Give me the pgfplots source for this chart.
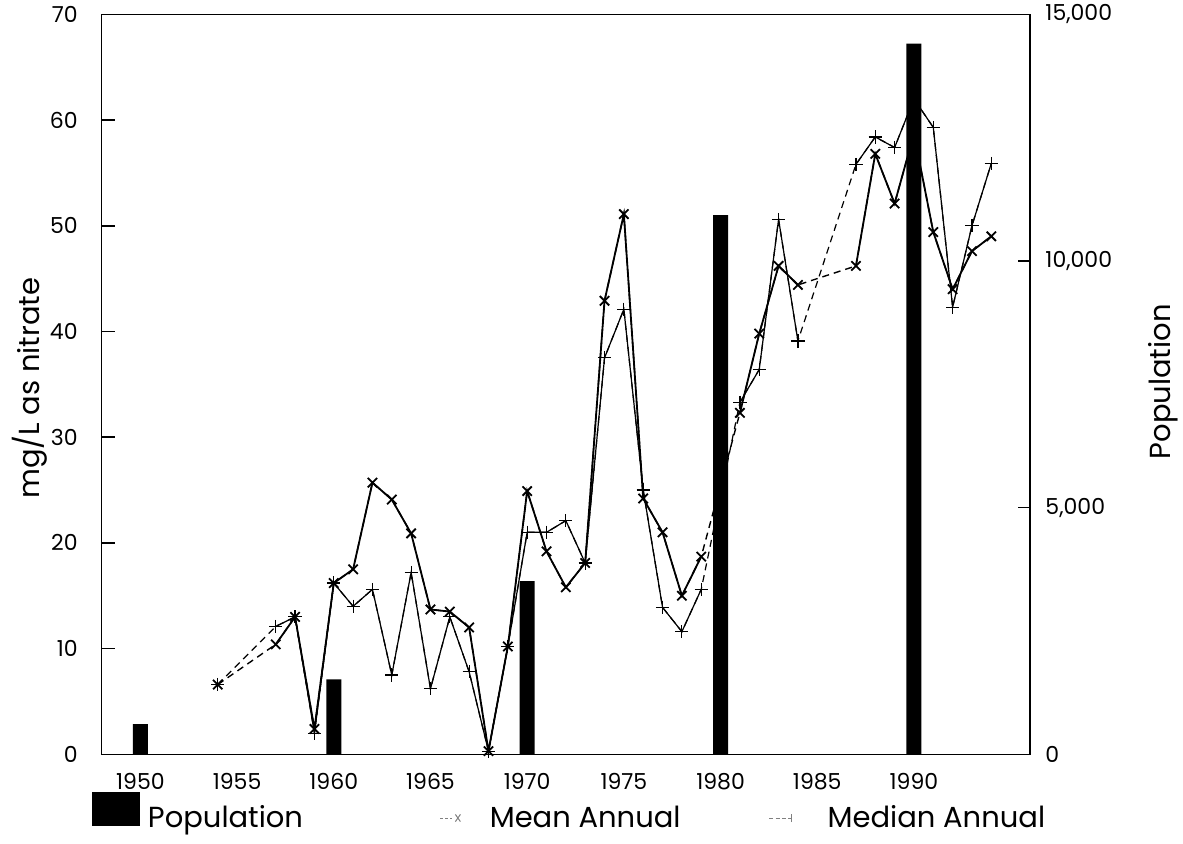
\documentclass[border=0pt]{standalone}
\usepackage{pgfplots}
\pgfplotsset{compat=1.18}
\usepackage{fontspec}
\setmainfont{Poppins}
\newcommand{\tickfont}{\fontsize{11}{13}\selectfont}
\newcommand{\labfont}{\fontsize{14.5}{17}\selectfont}
\begin{document}
\begin{tikzpicture}
\begin{axis}[
  scale only axis, width=464.15pt, height=370pt,
  at={(0pt,0pt)}, anchor=south west,
  xmin=1948, xmax=1996, ymin=0, ymax=70,
  xtick={1950,1955,...,1990},
  ytick={0,10,...,70},
  ytick pos=left,
  tick align=inside,
  major tick length=6.5pt,
  x tick style={draw=none},
  axis line style={line width=0.8pt},
  y tick style={line width=0.8pt, black},
  /pgf/number format/assume math mode=true,
  x tick label style={/pgf/number format/1000 sep={}, font=\tickfont, yshift=-6pt},
  y tick label style={font=\tickfont, xshift=-8.5pt},
  ylabel={mg/L as nitrate},
  ylabel style={at={(axis description cs:-0.0772,0.4948)}, anchor=center, font=\labfont},
  unbounded coords=jump,
]
% dashed connections across missing years (mean)
\addplot[black, line width=0.7pt, dash pattern=on 3.5pt off 2.5pt, forget plot] coordinates {
(1954,6.6) (1957,10.4) (1958,13.0) (1959,2.4) (1960,16.2) (1961,17.5) (1962,25.7) (1963,24.1)
(1964,20.9) (1965,13.7) (1966,13.5) (1967,12.0) (1968,0.3) (1969,10.2) (1970,24.9) (1971,19.2)
(1972,15.8) (1973,18.1) (1974,42.9) (1975,51.1) (1976,24.2) (1977,21.0) (1978,15.0) (1979,18.7)
(1981,32.3) (1982,39.8) (1983,46.2) (1984,44.4) (1987,46.2) (1988,56.8) (1989,52.1) (1990,58.7)
(1991,49.4) (1992,44.0) (1993,47.6) (1994,49.0)};
% dashed connections across missing years (median)
\addplot[black, line width=0.6pt, dash pattern=on 3.5pt off 2.5pt, forget plot] coordinates {
(1954,6.6) (1957,12.1) (1958,13.0) (1959,2.0) (1960,16.2) (1961,14.0) (1962,15.6) (1963,7.5)
(1964,17.2) (1965,6.2) (1966,13.0) (1967,7.8) (1968,0.3) (1969,10.2) (1970,21.0) (1971,21.0)
(1972,22.1) (1973,18.1) (1974,37.5) (1975,42.1) (1976,25.0) (1977,13.9) (1978,11.6) (1979,15.6)
(1981,33.3) (1982,36.4) (1983,50.6) (1984,39.1) (1987,55.8) (1988,58.4) (1989,57.4) (1990,62.0)
(1991,59.3) (1992,42.3) (1993,50.0) (1994,55.9)};
% mean annual, solid where years are consecutive
\addplot[black, line width=0.9pt, mark=x, mark size=3.3pt, mark options={solid, line width=0.9pt}] coordinates {
(1954,6.6) (1955,nan) (1957,10.4) (1958,13.0) (1959,2.4) (1960,16.2) (1961,17.5) (1962,25.7) (1963,24.1)
(1964,20.9) (1965,13.7) (1966,13.5) (1967,12.0) (1968,0.3) (1969,10.2) (1970,24.9) (1971,19.2)
(1972,15.8) (1973,18.1) (1974,42.9) (1975,51.1) (1976,24.2) (1977,21.0) (1978,15.0) (1979,18.7)
(1980,nan) (1981,32.3) (1982,39.8) (1983,46.2) (1984,44.4) (1985,nan) (1987,46.2) (1988,56.8) (1989,52.1) (1990,58.7)
(1991,49.4) (1992,44.0) (1993,47.6) (1994,49.0)};
% median annual
\addplot[black, line width=0.6pt, mark=+, mark size=3.3pt, mark options={solid, line width=0.6pt}] coordinates {
(1954,6.6) (1955,nan) (1957,12.1) (1958,13.0) (1959,2.0) (1960,16.2) (1961,14.0) (1962,15.6) (1963,7.5)
(1964,17.2) (1965,6.2) (1966,13.0) (1967,7.8) (1968,0.3) (1969,10.2) (1970,21.0) (1971,21.0)
(1972,22.1) (1973,18.1) (1974,37.5) (1975,42.1) (1976,25.0) (1977,13.9) (1978,11.6) (1979,15.6)
(1980,nan) (1981,33.3) (1982,36.4) (1983,50.6) (1984,39.1) (1985,nan) (1987,55.8) (1988,58.4) (1989,57.4) (1990,62.0)
(1991,59.3) (1992,42.3) (1993,50.0) (1994,55.9)};
\end{axis}
\begin{axis}[
  scale only axis, width=464.15pt, height=370pt,
  at={(0pt,0pt)}, anchor=south west,
  xmin=1948, xmax=1996, ymin=0, ymax=15000,
  axis x line=none, axis y line*=right,
  ytick={0,5000,10000,15000},
  scaled y ticks=false,
  tick align=inside, major tick length=6pt,
  axis line style={line width=0.8pt},
  y tick style={line width=0.8pt, black},
  /pgf/number format/assume math mode=true,
  y tick label style={/pgf/number format/1000 sep={,}, font=\tickfont, xshift=4.2pt},
  ylabel={Population},
  ylabel style={at={(axis description cs:1.1433,0.5035)}, anchor=center, font=\labfont},
  legend columns=3,
  legend style={at={(axis description cs:-0.01045,-0.0515)}, anchor=north west,
    draw=none, fill=none, inner sep=0pt, outer sep=0pt, font=\labfont,
    nodes={inner sep=0pt},
    /tikz/every odd column/.append style={column sep=4pt}},
]
\addplot[ybar, bar width=7.5pt, fill=black, draw=none,
  legend image code/.code={\fill[black] (0pt,-4.2pt) rectangle (24pt,12.8pt);}]
  coordinates {(1950,614) (1960,1520) (1970,3511) (1980,10927) (1990,14406)};
\addlegendentry{\makebox[146pt][l]{Population}}
\addlegendimage{legend image code/.code={
  \draw[gray, line width=0.4pt, dash pattern=on 1.2pt off 1.2pt] (0pt,0pt) -- (7pt,0pt);
  \draw[gray, line width=0.5pt] (7.5pt,-1.8pt) -- (10pt,1.8pt) (7.5pt,1.8pt) -- (10pt,-1.8pt);
  \path (20.5pt,0pt);}}
\addlegendentry{\makebox[139.5pt][l]{Mean Annual}}
\addlegendimage{legend image code/.code={
  \draw[gray, line width=0.4pt, dash pattern=on 2pt off 1.2pt] (0pt,0pt) -- (11pt,0pt);
  \draw[gray, line width=0.5pt] (11pt,-2pt) -- (11pt,2pt);
  \path (25pt,0pt);}}
\addlegendentry{Median Annual}
\end{axis}
\pgfresetboundingbox
\path[use as bounding box] (-50.85pt,-44.35pt) rectangle (540.65pt,377.15pt);
\end{tikzpicture}
\end{document}
